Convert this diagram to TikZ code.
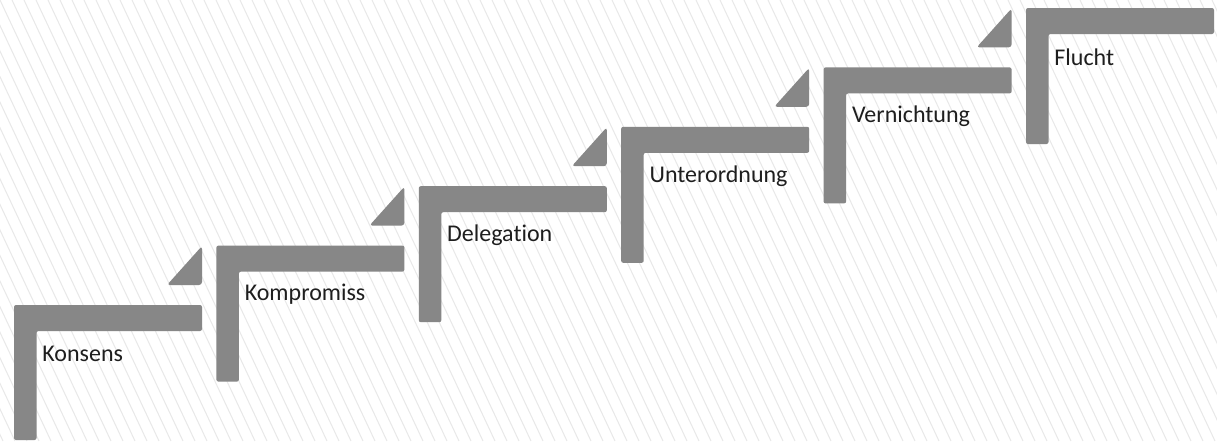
\documentclass[tikz,border=0pt]{standalone}
\usepackage{fontspec}
\setmainfont{Carlito}[Ligatures=NoCommon]
\usepackage{xcolor}
\definecolor{stufengrau}{HTML}{878787}
\definecolor{schraffur}{HTML}{E8E8E8}
\definecolor{schrift}{HTML}{1E1E1E}
\tikzset{
  stufe/.style={fill=stufengrau, draw=none, rounded corners=1pt},
  spitze/.style={fill=stufengrau, draw=none, rounded corners=1.5pt},
  beschriftung/.style={anchor=west, inner sep=0pt, text=schrift, font=\fontsize{12}{14}\selectfont}
}

\begin{document}
\begin{tikzpicture}[x=0.5pt,y=-0.5pt]
% background with fine hatching
\useasboundingbox (0,0) rectangle (1217,441);
\fill[white] (0,0) rectangle (1217,441);
\begin{scope}
\clip (0,0) rectangle (1217,441);
\foreach \x in {-216,-204,...,1217}
  \draw[schraffur, line width=0.5pt] (\x,0) -- ++(207,441);
\end{scope}

% Konsens
\fill[stufe] (14,440) -- (14,305) -- (202,305) -- (202,331) -- (36.5,331) -- (36.5,440) -- cycle;
\fill[spitze] (167,285) -- (202,285) -- (202,246) -- cycle;
\node[beschriftung] (konsens) at (42,354) {Konsens};

% Kompromiss
\fill[stufe] (216.4,381.6) -- (216.4,245.6) -- (404.4,245.6) -- (404.4,271.6) -- (238.9,271.6) -- (238.9,381.6) -- cycle;
\fill[spitze] (369.4,225.6) -- (404.4,225.6) -- (404.4,186.6) -- cycle;
\node[beschriftung] (kompromiss) at (244.4,294.6) {Kompromiss};

% Delegation
\fill[stufe] (418.8,322.2) -- (418.8,186.2) -- (606.8,186.2) -- (606.8,212.2) -- (441.3,212.2) -- (441.3,322.2) -- cycle;
\fill[spitze] (571.8,166.2) -- (606.8,166.2) -- (606.8,127.2) -- cycle;
\node[beschriftung] (delegation) at (446.8,235.2) {Delegation};

% Unterordnung
\fill[stufe] (621.2,262.8) -- (621.2,126.8) -- (809.2,126.8) -- (809.2,152.8) -- (643.7,152.8) -- (643.7,262.8) -- cycle;
\fill[spitze] (774.2,106.8) -- (809.2,106.8) -- (809.2,67.8) -- cycle;
\node[beschriftung] (unterordnung) at (649.2,175.8) {Unterordnung};

% Vernichtung
\fill[stufe] (823.6,203.4) -- (823.6,67.4) -- (1011.6,67.4) -- (1011.6,93.4) -- (846.1,93.4) -- (846.1,203.4) -- cycle;
\fill[spitze] (976.6,47.4) -- (1011.6,47.4) -- (1011.6,8.4) -- cycle;
\node[beschriftung] (vernichtung) at (851.6,116.4) {Vernichtung};

% Flucht
\fill[stufe] (1026,144) -- (1026,8) -- (1214,8) -- (1214,34) -- (1048.5,34) -- (1048.5,144) -- cycle;
\node[beschriftung] (flucht) at (1054,57) {Flucht};
\end{tikzpicture}
\end{document}
